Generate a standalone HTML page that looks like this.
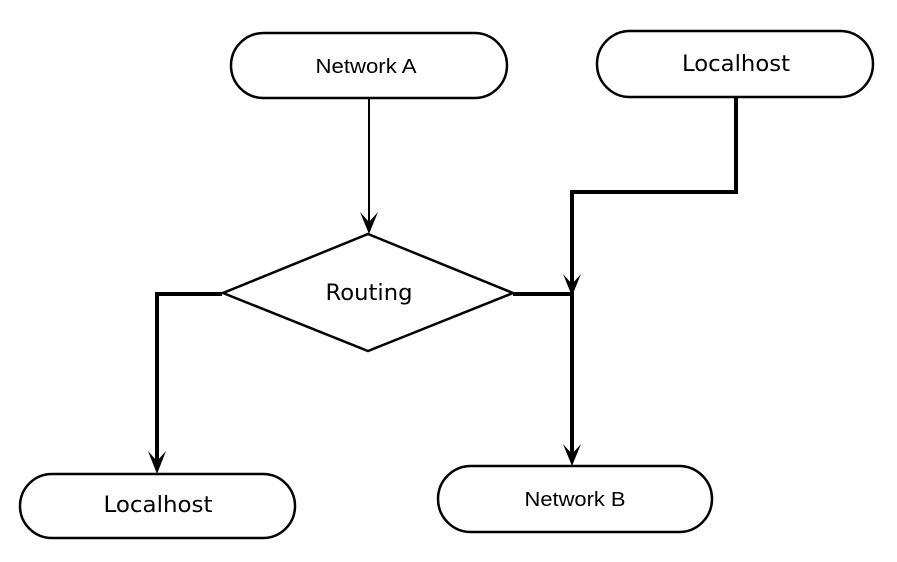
<!DOCTYPE html>
<html><head><meta charset="utf-8"><style>
html,body{margin:0;padding:0;background:#fff;width:897px;height:562px;overflow:hidden}
svg{display:block}
</style></head><body>
<svg width="897" height="562" viewBox="0 0 897 562" xmlns="http://www.w3.org/2000/svg">
<g fill="#fff" stroke="#000" stroke-width="2.5">
<rect x="231" y="33" width="276" height="65" rx="32.5"/>
<rect x="597" y="31" width="276" height="66" rx="33"/>
<rect x="20" y="474" width="275" height="64" rx="32"/>
<rect x="438" y="466" width="274" height="66" rx="33"/>
<polygon points="368,234 513,293 368,351 223,293" stroke-width="2.5"/>
</g>
<g fill="none" stroke="#000" stroke-linejoin="miter">
<line x1="369" y1="98" x2="369" y2="222" stroke-width="2"/>
<polyline points="736,97 736,192 572,192 572,284" stroke-width="4"/>
<polyline points="513,294 572,294 572,455" stroke-width="4"/>
<polyline points="222,294 157,294 157,462" stroke-width="4"/>
</g>
<g fill="#000">
<polygon points="360,212 369,222 378,212 369,234"/>
<polygon points="563,274 572,284 581,274 572,296"/>
<polygon points="563,444 572,454 581,444 572,466"/>
<polygon points="148,451 157,461 166,451 157,474"/>
</g>
<g font-family="Liberation Sans, sans-serif" font-size="20" text-anchor="middle" fill="#000">
<text x="366" y="73" textLength="101" lengthAdjust="spacingAndGlyphs">Network A</text>
<text x="575" y="506" textLength="101" lengthAdjust="spacingAndGlyphs">Network B</text>
</g>
<g font-family="DejaVu Sans, sans-serif" font-size="22" text-anchor="middle" fill="#000">
<text x="736" y="71" textLength="108" lengthAdjust="spacingAndGlyphs">Localhost</text>
<text x="158" y="512" textLength="109" lengthAdjust="spacingAndGlyphs">Localhost</text>
<text x="369" y="300" textLength="87" lengthAdjust="spacingAndGlyphs">Routing</text>
</g>
</svg>
</body></html>
